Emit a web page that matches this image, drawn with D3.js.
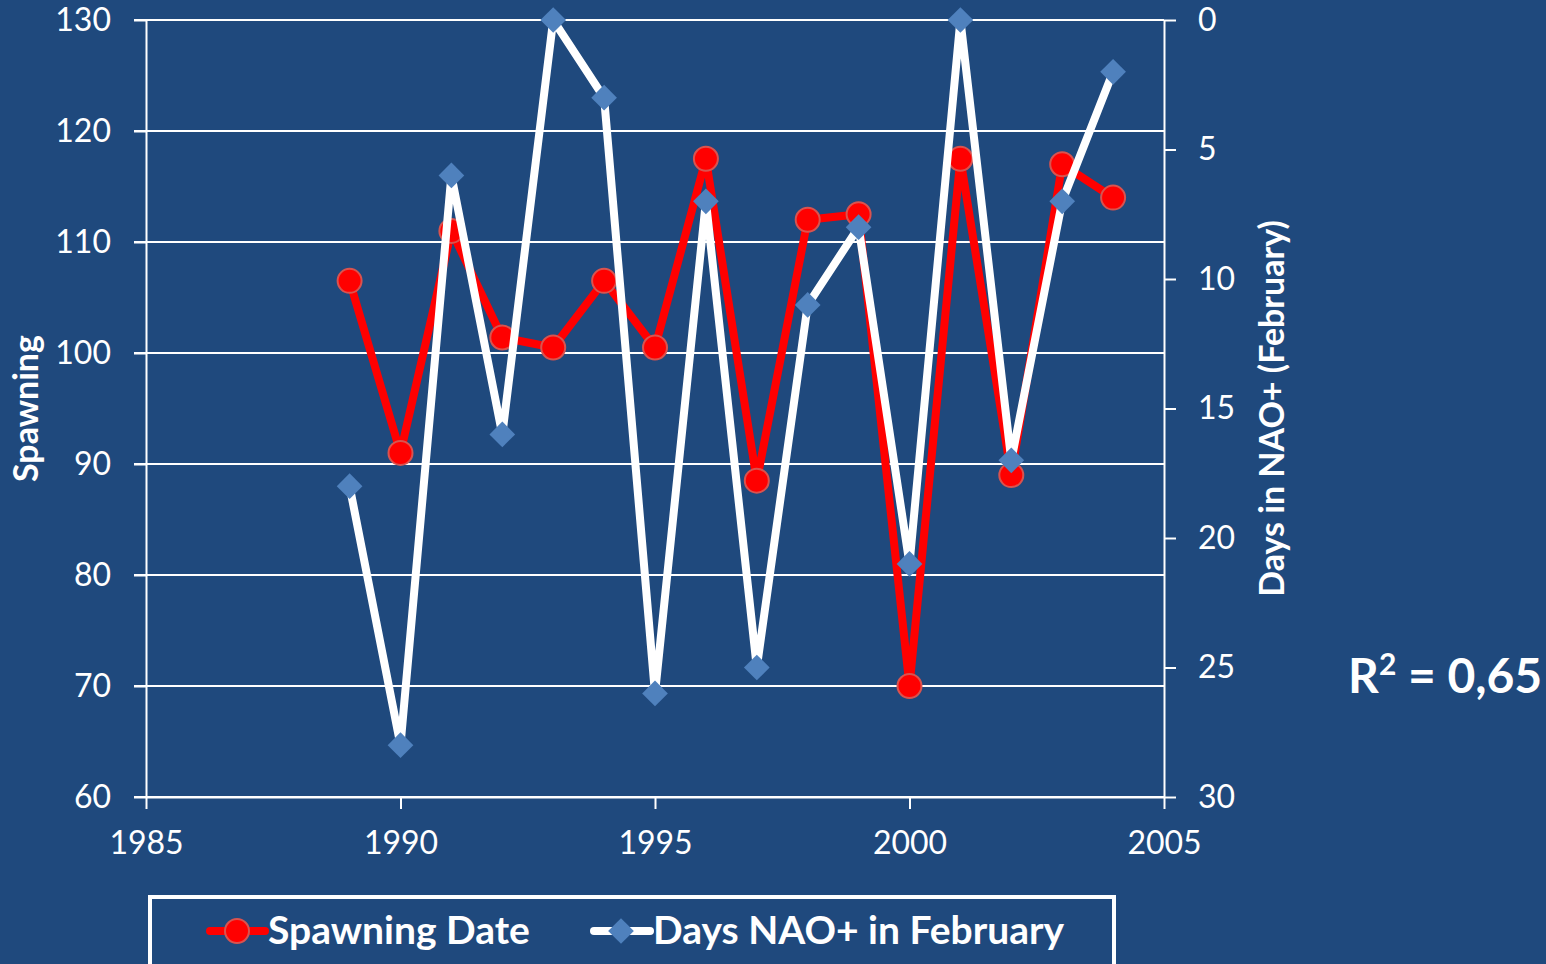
<!DOCTYPE html>
<html>
<head>
<meta charset="utf-8">
<script src="https://cdn.jsdelivr.net/npm/d3@7"></script>
<style>
  body { margin: 0; background: #1F497D; }
  svg { display: block; }
  text { font-family: Lato, "Open Sans", sans-serif; fill: #fff; }
</style>
</head>
<body>
<script>
// data
const years = [1989, 1990, 1991, 1992, 1993, 1994, 1995, 1996, 1997, 1998, 1999, 2000, 2001, 2002, 2003, 2004];
const spawning = [106.5, 91, 111, 101.4, 100.5, 106.5, 100.5, 117.5, 88.5, 112, 112.5, 70, 117.5, 89, 117, 114];
const naoDays = [18, 28, 6, 16, 0, 3, 26, 7, 25, 11, 8, 21, 0, 17, 7, 2];
const xTicks = [1985, 1990, 1995, 2000, 2005];
const leftTicks = [60, 70, 80, 90, 100, 110, 120, 130];
const rightTicks = [0, 5, 10, 15, 20, 25, 30];

const width = 1546, height = 964;
const plot = {left: 146, right: 1164, top: 20, bottom: 797};

const svg = d3.select("body").append("svg")
  .attr("width", width)
  .attr("height", height);

svg.append("rect").attr("width", width).attr("height", height).attr("fill", "#1F497D");

let x = d3.scaleLinear().domain([1985, 2005]).range([plot.left, plot.right]);
let yL = d3.scaleLinear().domain([60, 130]).range([plot.bottom, plot.top]);
let yR = d3.scaleLinear().domain([0, 30]).range([plot.top, plot.bottom]);

// gridlines from the left axis
svg.append("g").selectAll("line")
  .data(leftTicks)
  .join("line")
  .attr("x1", plot.left - 12)
  .attr("x2", plot.right)
  .attr("y1", d => yL(d))
  .attr("y2", d => yL(d))
  .attr("stroke", "#fff")
  .attr("stroke-width", 2);

// axes
const styleAxis = g => {
  g.select(".domain").attr("stroke", "#fff").attr("stroke-width", 2);
  g.selectAll(".tick line").attr("stroke", "#fff").attr("stroke-width", 2);
  g.selectAll(".tick text").attr("fill", "#fff")
    .style("font-family", "Lato, 'Open Sans', sans-serif").style("font-size", "32px");
};

svg.append("g")
  .attr("transform", `translate(${plot.left},0)`)
  .call(d3.axisLeft(yL).tickValues(leftTicks).tickSize(12).tickSizeOuter(0).tickPadding(23))
  .call(styleAxis);

svg.append("g")
  .attr("transform", `translate(${plot.right},0)`)
  .call(d3.axisRight(yR).tickValues(rightTicks).tickSize(12).tickSizeOuter(0).tickPadding(22))
  .call(styleAxis);

svg.append("g")
  .attr("transform", `translate(0,${plot.bottom})`)
  .call(d3.axisBottom(x).tickValues(xTicks).tickFormat(d3.format("d")).tickSize(12).tickSizeOuter(0).tickPadding(22))
  .call(styleAxis);

// axis titles
svg.append("text")
  .attr("transform", `translate(38,${(plot.top + plot.bottom) / 2}) rotate(-90)`)
  .attr("text-anchor", "middle")
  .style("font-size", "34px").style("font-weight", "bold")
  .text("Spawning");

svg.append("text")
  .attr("transform", `translate(1284,${(plot.top + plot.bottom) / 2}) rotate(-90)`)
  .attr("text-anchor", "middle")
  .style("font-size", "34px").style("font-weight", "bold")
  .text("Days in NAO+ (February)");

// red series
const redLine = d3.line().x((d, i) => x(years[i])).y(d => yL(d));
svg.append("path")
  .datum(spawning)
  .attr("d", redLine)
  .attr("fill", "none")
  .attr("stroke", "#FF0000")
  .attr("stroke-width", 8)
  .attr("stroke-linejoin", "round");

svg.append("g").selectAll("circle")
  .data(spawning)
  .join("circle")
  .attr("cx", (d, i) => x(years[i]))
  .attr("cy", d => yL(d))
  .attr("r", 12)
  .attr("fill", "#FF0000")
  .attr("stroke", "#D9534F")
  .attr("stroke-width", 2);

// white series
const whiteLine = d3.line().x((d, i) => x(years[i])).y(d => yR(d));
svg.append("path")
  .datum(naoDays)
  .attr("d", whiteLine)
  .attr("fill", "none")
  .attr("stroke", "#FFFFFF")
  .attr("stroke-width", 8)
  .attr("stroke-linejoin", "round");

const diamond = d3.symbol().type(d3.symbolSquare).size(330);
svg.append("g").selectAll("path")
  .data(naoDays)
  .join("path")
  .attr("d", diamond)
  .attr("transform", (d, i) => `translate(${x(years[i])},${yR(d)}) rotate(45)`)
  .attr("fill", "#4F81BD");

// R squared
const r2 = svg.append("text")
  .attr("x", 1348).attr("y", 693)
  .style("font-size", "48px").style("font-weight", "bold");
r2.append("tspan").text("R");
r2.append("tspan").attr("dy", -18).style("font-size", "30px").text("2");
r2.append("tspan").attr("dy", 18).text(" = 0,65");

// legend
const legend = svg.append("g");
legend.append("rect")
  .attr("x", 150).attr("y", 897)
  .attr("width", 964).attr("height", 80)
  .attr("fill", "none")
  .attr("stroke", "#fff")
  .attr("stroke-width", 4);

legend.append("line")
  .attr("x1", 210).attr("x2", 265).attr("y1", 931).attr("y2", 931)
  .attr("stroke", "#FF0000").attr("stroke-width", 8).attr("stroke-linecap", "round");
legend.append("circle")
  .attr("cx", 237).attr("cy", 931).attr("r", 12)
  .attr("fill", "#FF0000").attr("stroke", "#D9534F").attr("stroke-width", 2);
legend.append("text")
  .attr("x", 268).attr("y", 944)
  .style("font-size", "39px").style("font-weight", "bold")
  .text("Spawning Date");

legend.append("line")
  .attr("x1", 594).attr("x2", 650).attr("y1", 931).attr("y2", 931)
  .attr("stroke", "#FFFFFF").attr("stroke-width", 8).attr("stroke-linecap", "round");
legend.append("path")
  .attr("d", diamond)
  .attr("transform", "translate(621,931) rotate(45)")
  .attr("fill", "#4F81BD");
legend.append("text")
  .attr("x", 653).attr("y", 944)
  .style("font-size", "39px").style("font-weight", "bold")
  .text("Days NAO+ in February");
</script>
</body>
</html>
